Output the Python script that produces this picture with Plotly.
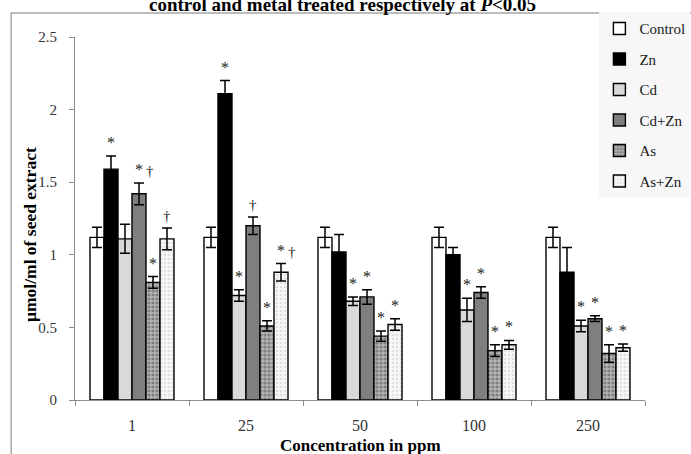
import plotly.graph_objects as go

# ---------------- data ----------------
categories = ["1", "25", "50", "100", "250"]
series_names = ["Control", "Zn", "Cd", "Cd+Zn", "As", "As+Zn"]

control = [1.12, 1.12, 1.12, 1.12, 1.12]
control_err = [0.07, 0.07, 0.07, 0.07, 0.07]
zn = [1.59, 2.11, 1.02, 1.00, 0.88]
zn_err = [0.09, 0.09, 0.12, 0.05, 0.17]
cd = [1.11, 0.72, 0.68, 0.62, 0.51]
cd_err = [0.10, 0.04, 0.03, 0.08, 0.04]
cdzn = [1.42, 1.20, 0.71, 0.74, 0.56]
cdzn_err = [0.075, 0.06, 0.05, 0.04, 0.02]
as_only = [0.81, 0.51, 0.44, 0.34, 0.32]
as_err = [0.04, 0.035, 0.035, 0.04, 0.06]
aszn = [1.11, 0.88, 0.52, 0.38, 0.36]
aszn_err = [0.075, 0.06, 0.04, 0.03, 0.025]

# significance marks: (category, series, symbol)
sig_category = ["1", "1", "1", "1", "1",
                "25", "25", "25", "25", "25", "25",
                "50", "50", "50", "50",
                "100", "100", "100", "100",
                "250", "250", "250", "250"]
sig_series = ["Zn", "Cd+Zn", "Cd+Zn", "As", "As+Zn",
              "Zn", "Cd", "Cd+Zn", "As", "As+Zn", "As+Zn",
              "Cd", "Cd+Zn", "As", "As+Zn",
              "Cd", "Cd+Zn", "As", "As+Zn",
              "Cd", "Cd+Zn", "As", "As+Zn"]
sig_symbol = ["*", "*", "†", "*", "†",
              "*", "*", "†", "*", "*", "†",
              "*", "*", "*", "*",
              "*", "*", "*", "*",
              "*", "*", "*", "*"]

title_text = "control and metal treated respectively at <i>P</i>&lt;0.05"
y_title = "µmol/ml of seed extract"
x_title = "Concentration in ppm"
y_ticks = [0, 0.5, 1, 1.5, 2, 2.5]
y_ticklabels = ["0", "0.5", "1", "1.5", "2", "2.5"]

values = [control, zn, cd, cdzn, as_only, aszn]
errors = [control_err, zn_err, cd_err, cdzn_err, as_err, aszn_err]

# ---------------- styles ----------------
W, H = 691, 454
ML, MR, MT, MB = 75, 46, 37, 54
SERIF = "Liberation Serif, Times New Roman, serif"
BARGAP = 0.263

styles = [
    dict(color="#ffffff"),
    dict(color="#000000"),
    dict(color="#d9d9d9"),
    dict(color="#7f7f7f"),
    dict(color="#a0a0a0", pattern=dict(shape=".", fgcolor="#4a4a4a", bgcolor="#b4b4b4",
                                       size=4, solidity=0.5)),
    dict(color="#f2f2f2", pattern=dict(shape=".", fgcolor="#c8c8c8", bgcolor="#f6f6f6",
                                       size=4, solidity=0.3)),
]

fig = go.Figure()
for i, name in enumerate(series_names):
    st = styles[i]
    marker = dict(color=st["color"], line=dict(color="#000000", width=1.4))
    if "pattern" in st:
        marker["pattern"] = st["pattern"]
    fig.add_trace(go.Bar(
        x=categories, y=values[i], name=name, marker=marker,
        legendgroup=name,
        error_y=dict(type="data", array=errors[i], visible=True,
                     color="#000000", thickness=1.5, width=5),
    ))

# significance annotations (x given as category index on the category axis)
plot_w = W - ML - MR
cat_px = plot_w / len(categories)
bar_px = cat_px * (1 - BARGAP) / len(series_names)
for c, s, sym in zip(sig_category, sig_series, sig_symbol):
    ci = categories.index(c)
    si = series_names.index(s)
    top = values[si][ci] + errors[si][ci]
    dx = (si - (len(series_names) - 1) / 2) * bar_px
    has_star = any(cc == c and ss == s and yy == "*"
                   for cc, ss, yy in zip(sig_category, sig_series, sig_symbol))
    if sym == "†" and has_star:
        dx += 11
    fig.add_annotation(
        x=ci, y=top, xref="x", yref="y", text=sym, showarrow=False,
        xshift=dx, yshift=3 if sym == "*" else 2, yanchor="bottom",
        font=dict(family=SERIF, size=16 if sym == "*" else 15, color="#1a1a1a"),
    )

# title (partly cut by the top of the page, as in the reference)
fig.add_annotation(
    x=0.47, y=1.09, xref="paper", yref="paper", text=title_text, showarrow=False,
    xanchor="center", yanchor="middle",
    font=dict(family=SERIF, size=19, color="#000000", weight="bold"),
)
# y axis title
fig.add_annotation(
    x=-0.079, y=0.457, xref="paper", yref="paper", text=y_title, showarrow=False,
    textangle=-90, xanchor="center", yanchor="middle",
    font=dict(family=SERIF, size=17.5, color="#000000", weight="bold"),
)
# x axis title
fig.add_annotation(
    x=0.5, y=-0.124, xref="paper", yref="paper", text=x_title, showarrow=False,
    xanchor="center", yanchor="middle",
    font=dict(family=SERIF, size=17, color="#000000", weight="bold"),
)

# outer chart border
fig.add_shape(type="rect", xref="paper", yref="paper",
              x0=-0.112, x1=1.3, y0=-0.4, y1=1.066,
              line=dict(color="#a6a6a6", width=1.5), fillcolor="rgba(0,0,0,0)", layer="below")

fig.update_layout(
    width=W, height=H,
    margin=dict(l=ML, r=MR, t=MT, b=MB, autoexpand=False),
    paper_bgcolor="#ffffff", plot_bgcolor="#ffffff",
    barmode="group", bargap=BARGAP, bargroupgap=0,
    showlegend=True,
    legend=dict(
        x=0.92, y=1.068, xanchor="left", yanchor="top",
        bgcolor="#f7f7f7", borderwidth=0,
        font=dict(family=SERIF, size=15, color="#1a1a1a"),
        tracegroupgap=8, traceorder="grouped",
        itemwidth=30,
    ),
    font=dict(family=SERIF, color="#333333"),
    xaxis=dict(
        type="category", categoryorder="array", categoryarray=categories,
        range=[-0.5, len(categories) - 0.5],
        showline=True, linecolor="#8c8c8c", linewidth=1,
        ticks="outside", tickson="boundaries", ticklen=5, tickcolor="#8c8c8c",
        tickfont=dict(family=SERIF, size=16, color="#333333"),
        ticklabelstandoff=11, showgrid=False, zeroline=False,
    ),
    yaxis=dict(
        range=[0, 2.5], tickvals=y_ticks, ticktext=y_ticklabels,
        showline=True, linecolor="#8c8c8c", linewidth=1,
        ticks="outside", ticklen=5, tickcolor="#8c8c8c",
        tickfont=dict(family=SERIF, size=15, color="#333333"),
        ticklabelstandoff=9, showgrid=False, zeroline=False,
    ),
)

fig.write_html("out.html")
